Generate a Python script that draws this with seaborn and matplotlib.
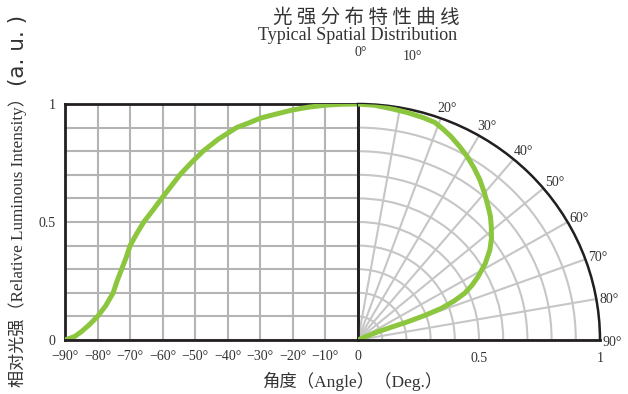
import numpy as np
import matplotlib
matplotlib.use("Agg")
import matplotlib.pyplot as plt
import seaborn as sns
from matplotlib.ticker import MultipleLocator

# left half: relative intensity vs angle (cartesian)
cart_angle = [-90, -87, -85, -82.5, -80, -77.5, -75.2, -74, -72.6, -71.2, -70, -68, -65.8, -63,
              -60.3, -57.5, -54.7, -51.3, -47.6, -43, -37.3, -33.5, -30, -25, -20, -15, -10, -5, 0]
cart_value = [0, 0.015, 0.035, 0.065, 0.1, 0.145, 0.2, 0.25, 0.3, 0.35, 0.4, 0.45, 0.5, 0.55,
              0.6, 0.65, 0.7, 0.75, 0.8, 0.85, 0.9, 0.92, 0.94, 0.958, 0.975, 0.987, 0.995, 0.999, 1.0]

# right half: polar view of the beam
polar_angle = [0, 4, 8, 12, 16, 19, 21.5, 24, 27, 30, 33.3, 36.6, 40, 43.6, 46.3, 49, 52, 55,
               58.4, 61.6, 63.8, 65.8, 67.4, 68.7, 69.3, 69.4, 68.5, 67, 66, 65]
polar_value = [1.0, 0.997, 0.99, 0.985, 0.98, 0.975, 0.96, 0.944, 0.922, 0.90, 0.873, 0.845, 0.813,
               0.78, 0.757, 0.73, 0.70, 0.665, 0.617, 0.564, 0.525, 0.483, 0.43, 0.37, 0.30, 0.22,
               0.15, 0.09, 0.04, 0.0]

cart_ticks = [-90, -80, -70, -60, -50, -40, -30, -20, -10, 0]
cart_ticklabels = ["−90°", "−80°", "−70°", "−60°", "−50°", "−40°", "−30°", "−20°", "−10°", "0"]
y_ticks = [0, 0.5, 1]
y_ticklabels = ["0", "0.5", "1"]
polar_ticks = [0, 10, 20, 30, 40, 50, 60, 70, 80, 90]
polar_ticklabels = ["0°", "10°", "20°", "30°", "40°", "50°", "60°", "70°", "80°", "90°"]
r_ticklabels = {0.5: "0.5", 1.0: "1"}

sns.set_theme(style="white")
serif = ["Liberation Serif", "Noto Sans CJK SC", "DejaVu Sans"]
plt.rcParams["font.family"] = serif
plt.rcParams["axes.unicode_minus"] = True

GREEN = "#8cc63f"
BLACK = "#231f20"
TXT = "#333333"

fig = plt.figure(figsize=(6.28, 3.94), dpi=100)

# ---- cartesian part
ax = fig.add_axes([65 / 628, 54 / 394, 293 / 628, 236 / 394])
sns.lineplot(x=cart_angle, y=cart_value, ax=ax, color=GREEN, lw=3.6, sort=False, zorder=5)
ax.set_xlim(-90, 0)
ax.set_ylim(0, 1)
ax.set_xticks(cart_ticks)
ax.set_xticklabels(cart_ticklabels, fontsize=10)
ax.set_yticks(y_ticks)
ax.set_yticklabels(y_ticklabels, fontsize=10)
ax.yaxis.set_minor_locator(MultipleLocator(0.1))
ax.tick_params(which="both", length=0, pad=7, colors=TXT)
ax.grid(which="both", color="#b4b4b4", lw=1.5)
for s in ax.spines.values():
    s.set_color(BLACK)
    s.set_linewidth(2)
ax.spines["bottom"].set_zorder(6)
ax.set_xlabel("")
ax.set_ylabel("")

# ---- polar part
ax2 = fig.add_axes([358 / 628, 54 / 394, 242 / 628, 236 / 394], projection="polar")
ax2.set_facecolor("none")
ax2.set_thetamin(0)
ax2.set_thetamax(90)
ax2.set_theta_zero_location("N")
ax2.set_theta_direction(-1)
ax2.set_aspect("auto")
sns.lineplot(x=np.deg2rad(polar_angle), y=polar_value, ax=ax2, color=GREEN, lw=3.6, sort=False, zorder=5)
ax2.set_rlim(0, 1)
ax2.set_xticks(np.deg2rad(polar_ticks))
ax2.set_xticklabels([])
ax2.set_yticks(np.arange(0.1, 1.01, 0.1))
ax2.set_yticklabels([])
ax2.grid(color="#c6c6c6", lw=1.5)
ax2.spines["polar"].set_color(BLACK)
ax2.spines["polar"].set_linewidth(1.8)
ax2.spines["start"].set_color(BLACK)
ax2.spines["start"].set_linewidth(2)
ax2.spines["end"].set_color(BLACK)
ax2.spines["end"].set_linewidth(2)
ax2.spines["end"].set_zorder(6)
ax2.spines["inner"].set_visible(False)
ax2.set_xlabel("")
ax2.set_ylabel("")

for d, lab in zip(polar_ticks, polar_ticklabels):
    rr = 1.22 if d < 20 else 1.05
    ax2.text(np.deg2rad(d + 0.6), rr, lab, fontsize=10, ha="center", va="center", color=TXT)

for r, lab in r_ticklabels.items():
    ax2.annotate(lab, xy=(np.pi / 2, r), xytext=(0, -9), textcoords="offset points",
                 ha="center", va="top", fontsize=10, color=TXT)

# ---- titles and labels
fig.text(366 / 628, 1 - 17 / 394, " ".join("光强分布特性曲线"), fontsize=14,
         ha="center", va="center", color=TXT, family=["Noto Sans CJK SC", "DejaVu Sans"])
fig.text(358 / 628, 1 - 36 / 394, "Typical Spatial Distribution", fontsize=13,
         ha="center", va="center", color=TXT)
fig.text(352 / 628, 1 - 381 / 394, "角度（Angle）（Deg.）", fontsize=12.5,
         ha="center", va="center", color=TXT)
fig.text(18 / 628, 7 / 394, "相对光强（Relative Luminous Intensity）", fontsize=12.3,
         rotation=90, ha="center", va="bottom", color=TXT)
fig.text(18 / 628, 1 - 86 / 394, "(a. u. )", fontsize=15.5, rotation=90, ha="center", va="bottom",
         color=TXT, family=["DejaVu Sans", "Noto Sans CJK SC"])

fig.savefig("out.png", dpi=100)
